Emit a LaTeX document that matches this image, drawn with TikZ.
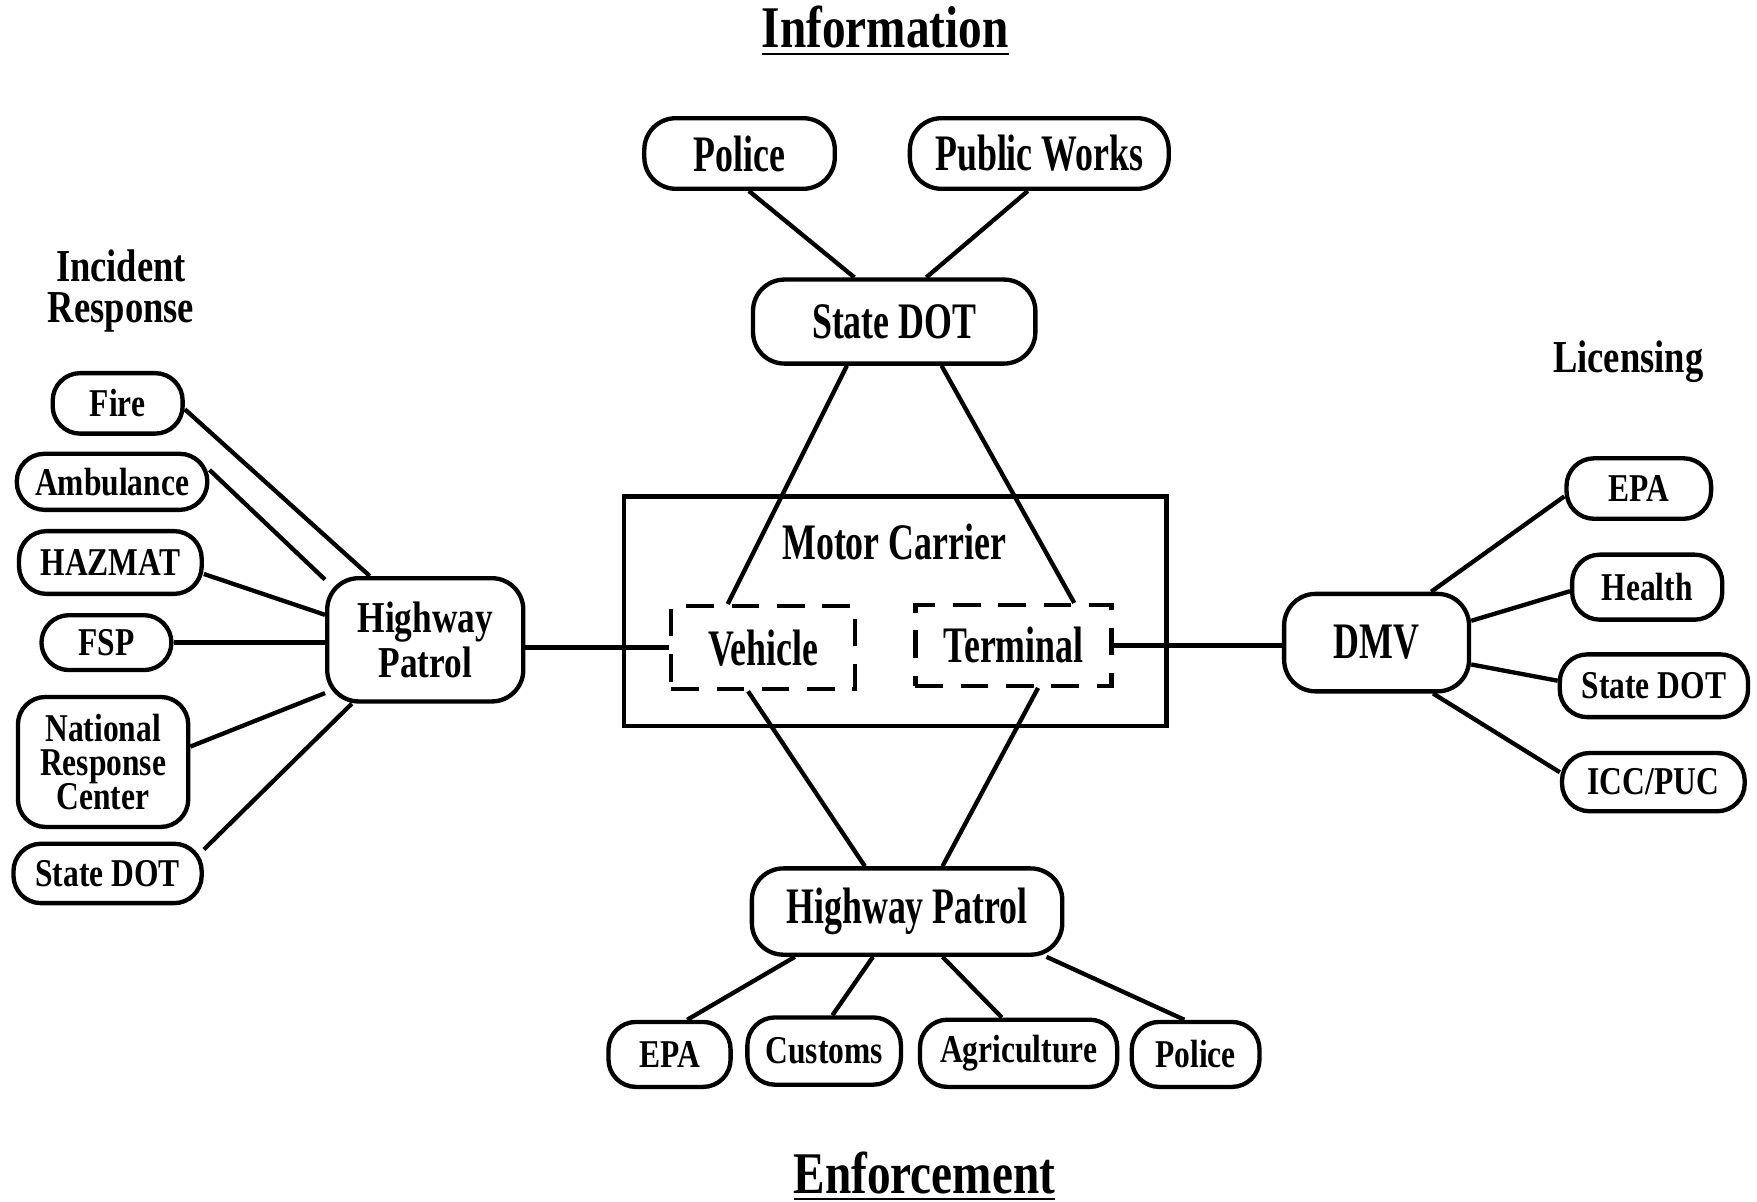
\documentclass[tikz,border=0pt]{standalone}
\usepackage{fontspec}
\setmainfont{Liberation Serif}
\newfontfamily\condserif[FakeStretch=0.7]{Liberation Serif}
\newfontfamily\narrowserif[FakeStretch=0.8]{Liberation Serif}
\newcommand{\biglabel}{\condserif\bfseries\fontsize{13}{13}\selectfont}
\newcommand{\midlabel}{\narrowserif\bfseries\fontsize{11.2}{11.3}\selectfont\lineskiplimit=-10pt}
\newcommand{\smalllabel}{\narrowserif\bfseries\fontsize{10}{8.7}\selectfont\lineskiplimit=-10pt}
\newcommand{\headlabel}{\narrowserif\bfseries\fontsize{15}{15}\selectfont}
\newcommand{\sidelabel}{\narrowserif\bfseries\fontsize{11.6}{10.5}\selectfont}

\begin{document}
\begin{tikzpicture}[line width=1.1pt,
	bigbox/.style={draw, rounded corners=8pt, inner sep=0pt, align=center, font=\biglabel},
	smallbox/.style={draw, rounded corners=7pt, inner sep=0pt, align=center, font=\smalllabel},
	partbox/.style={draw, dash pattern=on 7pt off 4.5pt, inner sep=0pt, font=\biglabel}]
	\useasboundingbox (0,0) rectangle (15.68,-10.72);
	% headings
	\node[font=\headlabel] (info) at (7.90,-0.28) {\underline{Information}};
	\node[font=\headlabel] (enf) at (8.25,-10.50) {\underline{Enforcement}};
	\node[font=\sidelabel, align=center] (incident) at (1.08,-2.60) {Incident\\Response};
	\node[font=\sidelabel] (licensing) at (14.53,-3.23) {Licensing};
	% information
	\node[bigbox, minimum width=1.70cm, minimum height=0.63cm] (ptop) at (6.60,-1.37) {Police};
	\node[bigbox, minimum width=2.31cm, minimum height=0.63cm] (pw) at (9.275,-1.37) {Public Works};
	\node[bigbox, minimum width=2.52cm, minimum height=0.75cm] (sdot) at (7.98,-2.87) {State DOT};
	% motor carrier
	\node[draw, minimum width=4.84cm, minimum height=2.05cm] (mc) at (7.99,-5.455) {};
	\node[font=\biglabel] (mclabel) at (7.98,-4.84) {Motor Carrier};
	\node[partbox, minimum width=1.64cm, minimum height=0.74cm] (veh) at (6.81,-5.78) {Vehicle};
	\node[partbox, minimum width=1.75cm, minimum height=0.72cm] (term) at (9.045,-5.76) {Terminal};
	% enforcement
	\node[bigbox, minimum width=2.77cm, minimum height=0.77cm] (hpb) at (8.095,-8.135) {Highway Patrol};
	\node[smallbox, minimum width=1.09cm, minimum height=0.58cm] (epab) at (5.975,-9.41) {EPA};
	\node[smallbox, minimum width=1.37cm, minimum height=0.60cm] (cust) at (7.355,-9.38) {Customs};
	\node[smallbox, minimum width=1.76cm, minimum height=0.60cm] (agri) at (9.09,-9.40) {Agriculture};
	\node[smallbox, minimum width=1.14cm, minimum height=0.58cm] (polb) at (10.67,-9.41) {Police};
	% incident response
	\node[bigbox, font=\midlabel, minimum width=1.75cm, minimum height=1.10cm] (hpl) at (3.795,-5.71) {Highway\\Patrol};
	\node[smallbox, minimum width=1.16cm, minimum height=0.54cm] (fire) at (1.05,-3.60) {Fire};
	\node[smallbox, minimum width=1.70cm, minimum height=0.50cm] (amb) at (1.00,-4.30) {Ambulance};
	\node[smallbox, minimum width=1.63cm, minimum height=0.56cm] (haz) at (0.985,-5.02) {HAZMAT};
	\node[smallbox, minimum width=1.16cm, minimum height=0.49cm] (fsp) at (0.95,-5.735) {FSP};
	\node[smallbox, minimum width=1.52cm, minimum height=1.16cm] (nrc) at (0.92,-6.80) {National\\Response\\Center};
	\node[smallbox, minimum width=1.68cm, minimum height=0.53cm] (sdl) at (0.96,-7.795) {State DOT};
	% licensing
	\node[bigbox, minimum width=1.65cm, minimum height=0.87cm] (dmv) at (12.285,-5.735) {DMV};
	\node[smallbox, minimum width=1.29cm, minimum height=0.54cm] (epar) at (14.625,-4.36) {EPA};
	\node[smallbox, minimum width=1.34cm, minimum height=0.58cm] (health) at (14.70,-5.24) {Health};
	\node[smallbox, minimum width=1.68cm, minimum height=0.56cm] (sdr) at (14.76,-6.12) {State DOT};
	\node[smallbox, minimum width=1.63cm, minimum height=0.52cm] (icc) at (14.755,-6.98) {ICC/PUC};

	\draw (ptop.-76) -- (sdot.132);
	\draw (pw.-107) -- (sdot.54);
	\draw (sdot.-137) -- (veh.129);
	\draw (sdot.-43) -- (term.35);
	\draw (veh.-109) -- (hpb.133);
	\draw (term.-60) -- (hpb.52);
	\draw (hpb.-158) -- (epab.63);
	\draw (hpb.-127) -- (cust.77);
	\draw (hpb.-52) -- (agri.115);
	\draw (hpb.-18) -- (polb.108);
	\draw (veh.west) -- (veh.west -| hpl.east);
	\draw (term.east) -- (term.east -| dmv.west);
	\draw (fire.-5) -- (hpl.131);
	\draw (amb.7) -- (hpl.149);
	\draw (haz.-7) -- (hpl.166);
	\draw (fsp.east) -- (fsp.east -| hpl.west);
	\draw (nrc.10) -- (hpl.-152);
	\draw (sdl.14) -- (hpl.-139);
	\draw (dmv.43) -- (epar.-174);
	\draw (dmv.13) -- (health.-177);
	\draw (dmv.-13) -- (sdr.177);
	\draw (dmv.-42) -- (icc.174);
\end{tikzpicture}
\end{document}
